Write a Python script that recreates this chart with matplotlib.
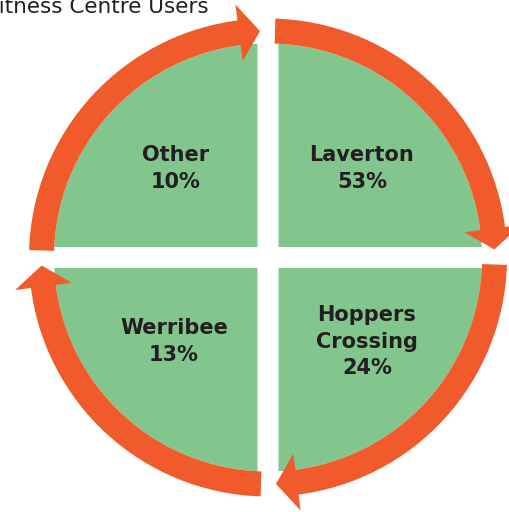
import numpy as np
import matplotlib
matplotlib.use("Agg")
import matplotlib.pyplot as plt
from matplotlib.patches import Polygon, Wedge

plt.rcParams['font.family'] = ['DejaVu Sans']

# data
areas = ['Laverton', 'Other', 'Werribee', 'Hoppers\nCrossing']
shares = [53, 10, 13, 24]
quad_start = [0, 90, 180, 270]   # start angle of each quadrant (deg)
title = 'Fitness Centre Users'

green = '#82C68E'
orange = '#F15A2B'
ink = '#231F20'

# geometry (pixel units, y up)
cx, cy = 268, 254.5
r_in, r_out = 214, 239
r_mid = (r_in + r_out) / 2
gap = 10.5          # half width of the white cross
head_half = 28.5
head_len = 21
tip_off = 8
start_off = 7
# label centre offsets from the circle centre, per quadrant
label_dx = [94, -92, -94, 99]
label_dy = [89, 89, -84, -84]

fig = plt.figure(figsize=(5.09, 5.12), dpi=100)
ax = fig.add_axes([0, 0, 1, 1])
ax.set_xlim(0, 509)
ax.set_ylim(0, 512)
ax.set_aspect('equal')
ax.axis('off')

d_green = np.degrees(np.arcsin(gap / r_in))
d_tip = np.degrees(np.arcsin(tip_off / r_mid))
d_start = np.degrees(np.arcsin(start_off / r_mid))
d_head = np.degrees(head_len / r_mid)

for name, val, t0, dx, dy in zip(areas, shares, quad_start, label_dx, label_dy):
    # green quadrant
    t = np.radians(np.linspace(t0 + d_green, t0 + 90 - d_green, 100))
    sx = np.sign(np.cos(np.radians(t0 + 45)))
    sy = np.sign(np.sin(np.radians(t0 + 45)))
    pts = [(cx + sx * gap, cy + sy * gap)]
    pts += list(zip(cx + r_in * np.cos(t), cy + r_in * np.sin(t)))
    ax.add_patch(Polygon(pts, closed=True, fc=green, ec='none'))

    # orange arc, clockwise, with arrow head
    t_tip = t0 + d_tip
    t_base = t_tip + d_head
    ax.add_patch(Wedge((cx, cy), r_out, t_base - 0.5, t0 + 90 - d_start,
                       width=r_out - r_in, fc=orange, ec='none'))
    tb, tt = np.radians(t_base), np.radians(t_tip)
    head = [(cx + (r_mid - head_half) * np.cos(tb), cy + (r_mid - head_half) * np.sin(tb)),
            (cx + (r_mid + head_half) * np.cos(tb), cy + (r_mid + head_half) * np.sin(tb)),
            (cx + r_mid * np.cos(tt), cy + r_mid * np.sin(tt))]
    ax.add_patch(Polygon(head, closed=True, fc=orange, ec='none'))

    # label
    ax.text(cx + dx, cy + dy, f'{name}\n{val}%',
            ha='center', va='center', multialignment='center',
            fontsize=15, fontweight='bold', color=ink, linespacing=1.4)

ax.text(209, 499, title, ha='right', va='baseline', fontsize=15.5, color=ink)

fig.savefig('out.png', dpi=100)
